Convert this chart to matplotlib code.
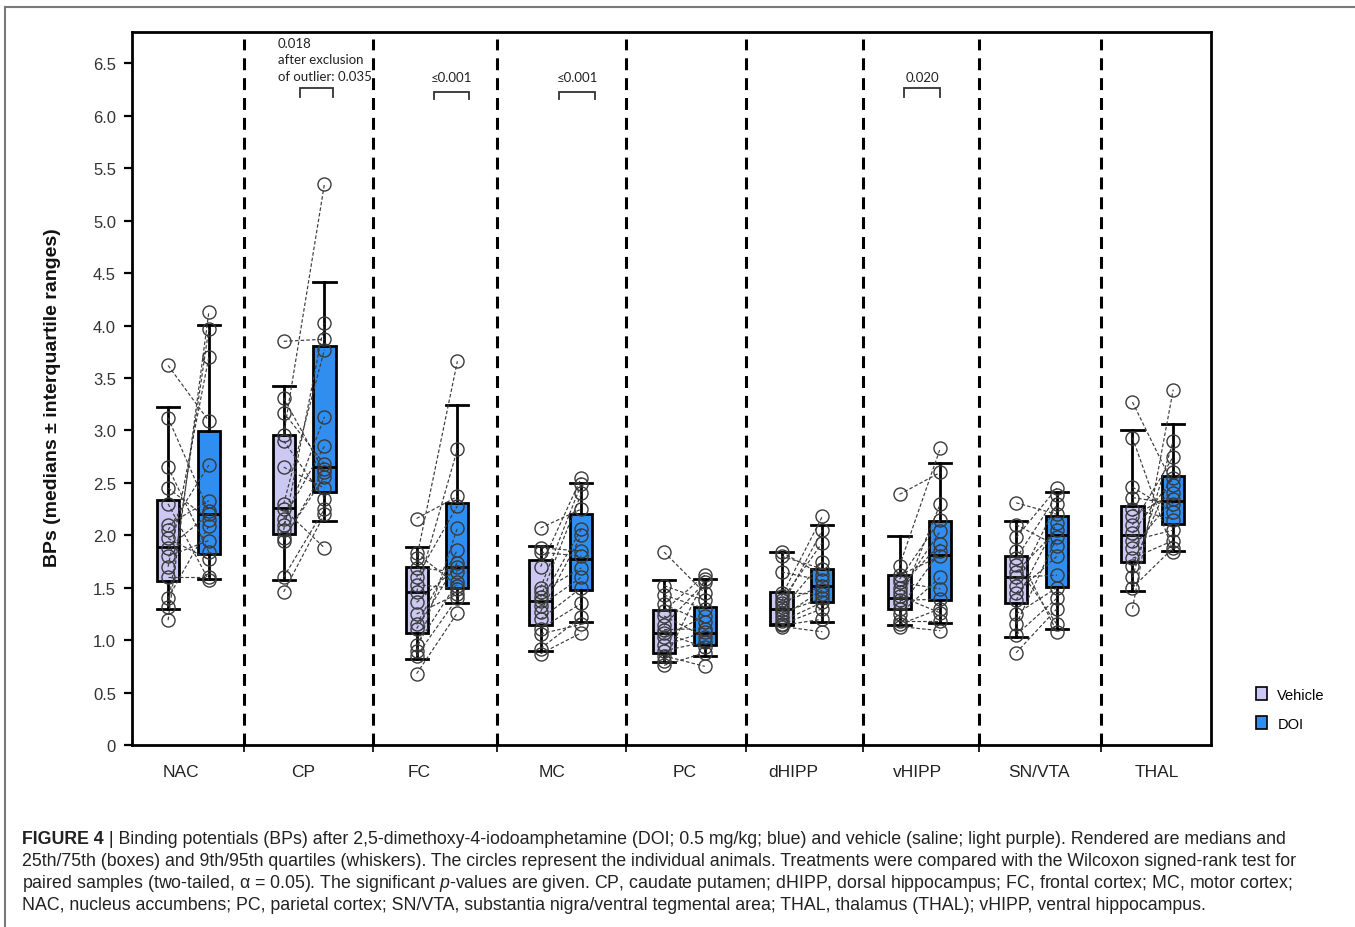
import matplotlib
matplotlib.use("Agg")
import matplotlib.pyplot as plt
from matplotlib.patches import Patch
from matplotlib.lines import Line2D

# ---------------- data ----------------
regions = ["NAC", "CP", "FC", "MC", "PC", "dHIPP", "vHIPP", "SN/VTA", "THAL"]
series_labels = ["Vehicle", "DOI"]

# box statistics: [whisker low, q1, median, q3, whisker high]
veh_stats = [
    [1.30, 1.56, 1.89, 2.34, 3.22],
    [1.57, 2.01, 2.26, 2.96, 3.42],
    [0.82, 1.07, 1.46, 1.70, 1.89],
    [0.90, 1.14, 1.37, 1.76, 1.90],
    [0.79, 0.88, 1.07, 1.29, 1.57],
    [1.14, 1.15, 1.30, 1.46, 1.84],
    [1.14, 1.30, 1.40, 1.62, 1.99],
    [1.03, 1.35, 1.60, 1.80, 2.14],
    [1.47, 1.75, 2.00, 2.28, 3.00],
]
doi_stats = [
    [1.58, 1.82, 2.20, 2.99, 4.01],
    [2.14, 2.41, 2.65, 3.81, 4.42],
    [1.35, 1.50, 1.70, 2.31, 3.24],
    [1.17, 1.48, 1.77, 2.20, 2.50],
    [0.85, 0.95, 1.07, 1.32, 1.58],
    [1.17, 1.36, 1.52, 1.68, 2.10],
    [1.16, 1.38, 1.81, 2.14, 2.69],
    [1.11, 1.51, 2.00, 2.18, 2.41],
    [1.85, 2.11, 2.33, 2.57, 3.06],
]

# individual animals (paired: i-th vehicle value <-> i-th DOI value)
nac_veh = [3.62, 3.12, 2.65, 2.45, 2.30, 2.10, 2.05, 1.97, 1.88, 1.80, 1.70, 1.60, 1.40, 1.32, 1.19]
nac_doi = [3.09, 2.23, 1.84, 2.15, 1.57, 2.33, 2.67, 1.77, 2.20, 1.95, 3.70, 1.60, 2.09, 3.97, 4.13]
cp_veh = [3.85, 3.31, 3.17, 2.96, 2.90, 2.65, 2.30, 2.25, 2.16, 2.10, 2.05, 1.97, 1.95, 1.60, 1.46]
cp_doi = [3.87, 2.60, 2.68, 5.35, 2.35, 2.45, 3.77, 1.88, 2.85, 3.13, 4.02, 2.56, 2.63, 2.25, 2.20]
fc_veh = [2.16, 1.83, 1.78, 1.69, 1.60, 1.53, 1.46, 1.36, 1.25, 1.15, 1.11, 0.95, 0.90, 0.85, 0.68]
fc_doi = [2.37, 1.52, 3.66, 1.65, 2.28, 1.49, 2.82, 1.70, 1.44, 1.86, 1.74, 1.55, 2.07, 1.40, 1.26]
mc_veh = [2.07, 1.88, 1.84, 1.70, 1.50, 1.46, 1.41, 1.37, 1.33, 1.27, 1.20, 1.11, 1.06, 0.92, 0.87]
mc_doi = [2.25, 1.85, 1.80, 2.55, 2.49, 1.69, 2.40, 2.06, 1.60, 2.00, 1.50, 1.35, 1.15, 1.22, 1.07]
pc_veh = [1.84, 1.52, 1.43, 1.34, 1.28, 1.23, 1.14, 1.10, 1.07, 1.03, 0.95, 0.90, 0.85, 0.80, 0.76]
pc_doi = [1.45, 1.38, 1.30, 1.17, 1.62, 1.03, 1.55, 1.11, 0.93, 1.23, 1.08, 0.98, 0.75, 1.58, 0.88]
dhipp_veh = [1.84, 1.80, 1.65, 1.45, 1.42, 1.38, 1.35, 1.32, 1.29, 1.26, 1.22, 1.18, 1.15, 1.14, 1.13]
dhipp_doi = [1.62, 1.68, 1.57, 1.44, 2.18, 1.93, 1.52, 2.05, 1.75, 1.40, 1.48, 1.36, 1.30, 1.20, 1.08]
vhipp_veh = [2.39, 1.71, 1.62, 1.58, 1.55, 1.50, 1.46, 1.42, 1.38, 1.35, 1.30, 1.25, 1.18, 1.15, 1.13]
vhipp_doi = [2.60, 2.83, 1.80, 2.15, 1.49, 1.92, 2.04, 1.26, 1.39, 2.30, 1.85, 1.60, 1.18, 1.30, 1.09]
snvta_veh = [2.31, 2.10, 1.98, 1.85, 1.78, 1.72, 1.65, 1.60, 1.52, 1.45, 1.38, 1.25, 1.15, 1.05, 0.88]
snvta_doi = [2.20, 1.90, 2.45, 1.08, 2.38, 1.15, 2.05, 1.62, 2.30, 1.80, 2.12, 1.50, 1.98, 1.40, 1.30]
thal_veh = [3.27, 2.93, 2.46, 2.36, 2.25, 2.18, 2.10, 2.02, 1.95, 1.88, 1.78, 1.71, 1.60, 1.50, 1.30]
thal_doi = [2.48, 1.84, 2.22, 2.30, 2.15, 2.40, 2.75, 2.55, 2.05, 2.35, 1.95, 2.60, 2.90, 1.88, 3.39]

veh_points = [nac_veh, cp_veh, fc_veh, mc_veh, pc_veh, dhipp_veh, vhipp_veh, snvta_veh, thal_veh]
doi_points = [nac_doi, cp_doi, fc_doi, mc_doi, pc_doi, dhipp_doi, vhipp_doi, snvta_doi, thal_doi]

ytick_values = [0, 0.5, 1.0, 1.5, 2.0, 2.5, 3.0, 3.5, 4.0, 4.5, 5.0, 5.5, 6.0, 6.5]
ytick_labels = ["0", "0.5", "1.0", "1.5", "2.0", "2.5", "3.0", "3.5", "4.0", "4.5", "5.0", "5.5", "6.0", "6.5"]

# significance annotations: (region index, text)
sig_texts = {1: "0.018\nafter exclusion\nof outlier: 0.035", 2: "\u22640.001", 3: "\u22640.001", 6: "0.020"}

caption_lines = [
    " | Binding potentials (BPs) after 2,5-dimethoxy-4-iodoamphetamine (DOI; 0.5 mg/kg; blue) and vehicle (saline; light purple). Rendered are medians and",
    "25th/75th (boxes) and 9th/95th quartiles (whiskers). The circles represent the individual animals. Treatments were compared with the Wilcoxon signed-rank test for",
    "paired samples (two-tailed, \u03b1 = 0.05). The significant $p$-values are given. CP, caudate putamen; dHIPP, dorsal hippocampus; FC, frontal cortex; MC, motor cortex;",
    "NAC, nucleus accumbens; PC, parietal cortex; SN/VTA, substantia nigra/ventral tegmental area; THAL, thalamus (THAL); vHIPP, ventral hippocampus.",
]

# ---------------- layout / style ----------------
W, H = 1355, 928
SANS = ["Liberation Sans", "DejaVu Sans"]
SMALL = ["Lato", "Open Sans", "DejaVu Sans"]
plt.rcParams["mathtext.fontset"] = "custom"
plt.rcParams["mathtext.it"] = "Liberation Sans:italic"
plt.rcParams["mathtext.rm"] = "Liberation Sans"

VEH_COLOR = "#cbc8f4"
DOI_COLOR = "#2f8ef0"

group_centers = [0.471, 1.435, 2.544, 3.578, 4.608, 5.588, 6.572, 7.545, 8.515]
label_x = [0.409, 1.426, 2.394, 3.503, 4.612, 5.513, 6.556, 7.565, 8.549]
boundaries = [0.934, 2.010, 3.044, 4.120, 5.121, 6.097, 7.064, 8.082]
offset = 0.17
bw = 0.185

fig = plt.figure(figsize=(W / 100, H / 100), dpi=100)
ax = fig.add_axes([132 / W, 1 - 746 / H, (1211 - 132) / W, (746 - 33) / H])
ax.set_xlim(0, 9)
ax.set_ylim(0, 6.8)

def mkstats(s):
    return dict(whislo=s[0], q1=s[1], med=s[2], q3=s[3], whishi=s[4], fliers=[])

for stats, pos_sign, color in [(veh_stats, -1, VEH_COLOR), (doi_stats, 1, DOI_COLOR)]:
    positions = [c + pos_sign * offset for c in group_centers]
    ax.bxp([mkstats(s) for s in stats], positions=positions, widths=bw, capwidths=bw,
           patch_artist=True, showfliers=False, manage_ticks=False,
           boxprops=dict(facecolor=color, edgecolor="black", linewidth=2.0),
           whiskerprops=dict(color="black", linewidth=2.0),
           capprops=dict(color="black", linewidth=2.0),
           medianprops=dict(color="black", linewidth=2.0), zorder=2)

# paired lines and circles
for i, c in enumerate(group_centers):
    xv, xd = c - offset, c + offset
    for a, b in zip(veh_points[i], doi_points[i]):
        ax.plot([xv, xd], [a, b], color="#3c3c3c", lw=0.85, ls=(0, (3.0, 1.8)), zorder=3)
    ax.plot([xv] * len(veh_points[i]), veh_points[i], "o", ms=9.4, mfc="none",
            mec="#3a3a3a", mew=1.0, zorder=4)
    ax.plot([xd] * len(doi_points[i]), doi_points[i], "o", ms=9.4, mfc="none",
            mec="#3a3a3a", mew=1.0, zorder=4)

# region separators
for b in boundaries:
    ax.axvline(b, ymin=0, ymax=0.99, color="black", lw=2.2, ls=(0, (3.9, 2.6)), zorder=1)

# axes styling
for sp in ax.spines.values():
    sp.set_linewidth(2.0)
ax.set_yticks(ytick_values)
ax.set_yticklabels(ytick_labels, fontsize=12, color="#333333", family=SANS)
ax.tick_params(axis="y", direction="out", length=6, width=1.6, pad=5.5)
ax.set_xticks(boundaries)
ax.set_xticklabels([])
ax.tick_params(axis="x", direction="out", length=5, width=1.2)
ax.set_ylabel("BPs (medians \u00b1 interquartile ranges)", fontsize=14, fontweight="bold",
              family=SANS, color="#111111")
ax.yaxis.set_label_coords(-0.066, 0.488)

for x, name in zip(label_x, regions):
    ax.text(x, -0.037, name, transform=ax.get_xaxis_transform(), ha="center", va="center",
            fontsize=12.5, family=SANS, color="#222222")

# significance brackets
bracket_spans = {1: (1.401, 1.676, 6.27, 6.18), 2: (2.519, 2.811, 6.23, 6.16),
                 3: (3.561, 3.862, 6.23, 6.16), 6: (6.439, 6.739, 6.27, 6.18)}
for k, txt in sig_texts.items():
    x0, x1, ytop, ybot = bracket_spans[k]
    ax.plot([x0, x0, x1, x1], [ybot, ytop, ytop, ybot], color="#333333", lw=1.3,
            solid_joinstyle="miter", zorder=5)
    if k == 1:
        ax.text(1.218, 6.75, txt, ha="left", va="top", fontsize=9.5, family=SMALL,
                color="#222222", linespacing=1.42)
    else:
        ax.text((x0 + x1) / 2, 6.37, txt, ha="center", va="center", fontsize=9.5,
                family=SMALL, color="#222222")

# legend
handles = [Patch(facecolor=VEH_COLOR, edgecolor="black", lw=1.2),
           Patch(facecolor=DOI_COLOR, edgecolor="black", lw=1.2)]
fig.legend(handles, series_labels, loc="center left",
           bbox_to_anchor=(1243 / W, 1 - 710 / H), frameon=False,
           handlelength=0.75, handleheight=1.0, handletextpad=0.7, labelspacing=1.0,
           prop=dict(family=SANS, size=10.5))

# figure frame
fig.add_artist(Line2D([5 / W, 1], [1 - 8 / H, 1 - 8 / H], transform=fig.transFigure,
                      color="#7a7a7a", lw=1.5))
fig.add_artist(Line2D([5 / W, 5 / W], [1 - 8 / H, 0], transform=fig.transFigure,
                      color="#7a7a7a", lw=1.5))

# caption
renderer = fig.canvas.get_renderer()
line_y = [840, 862, 884, 906]
CAP_FS = 12.8
t0 = fig.text(22 / W, 1 - line_y[0] / H, "FIGURE 4", fontsize=CAP_FS, fontweight="bold",
              family=SANS, color="#222222", va="center", ha="left")
bb = t0.get_window_extent(renderer=renderer)
fig.text(bb.x1 / W, 1 - line_y[0] / H, caption_lines[0], fontsize=CAP_FS, family=SANS,
         color="#222222", va="center", ha="left")
for y, line in zip(line_y[1:], caption_lines[1:]):
    fig.text(22 / W, 1 - y / H, line, fontsize=CAP_FS, family=SANS, color="#222222",
             va="center", ha="left")

fig.savefig("out.png", dpi=100)
